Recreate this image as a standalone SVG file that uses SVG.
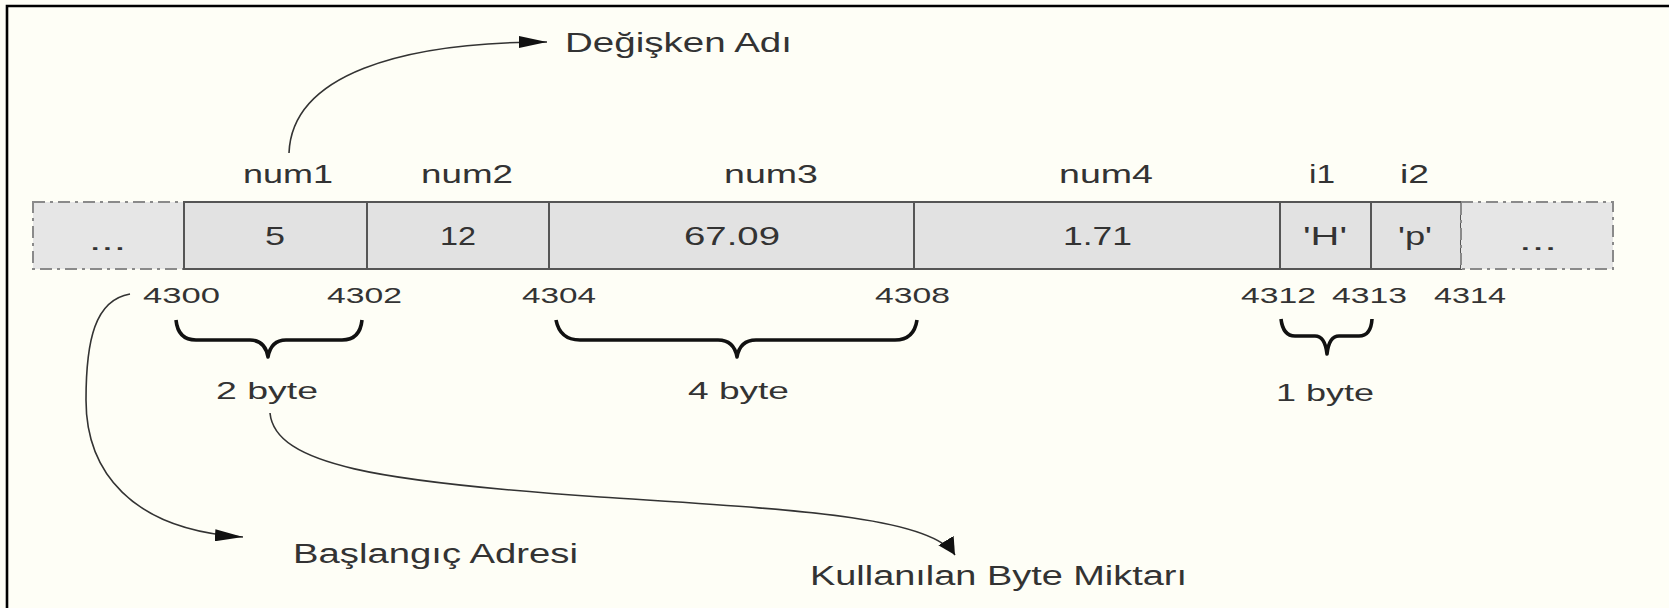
<svg xmlns="http://www.w3.org/2000/svg" width="1669" height="608" viewBox="0 0 1669 608">
<style>
text{font-family:"Liberation Sans",Arial,sans-serif;fill:#333}
.lbl{font-size:25px}
.addr{font-size:22px}
.byte{font-size:24px}
.big{font-size:27px}
.cell{fill:#e2e2e2;stroke:#555;stroke-width:2}
.dash{fill:#e6e6e6;stroke:#8a8a8a;stroke-width:2;stroke-dasharray:12 5 3 5}
.brace{fill:none;stroke:#111;stroke-width:3.6;stroke-linejoin:round}
.conn{fill:none;stroke:#333;stroke-width:1.6}
</style>
<defs>
<marker id="arrH" viewBox="0 0 28 12" refX="28" refY="6" markerWidth="28" markerHeight="12" markerUnits="userSpaceOnUse" orient="auto"><path d="M0,0 L28,6 L0,12 z" fill="#111"/></marker>
<marker id="arrV" viewBox="0 0 17 18" refX="17" refY="9" markerWidth="17" markerHeight="18" markerUnits="userSpaceOnUse" orient="auto"><path d="M0,0 L17,9 L0,18 z" fill="#111"/></marker>
</defs>
<rect width="1669" height="608" fill="#fefef6"/>
<path d="M7,608 V6 H1669" fill="none" stroke="#000" stroke-width="2.6"/>

<g id="connectors">
<path class="conn" d="M289,153 C292,75 400,42 547,42" marker-end="url(#arrH)"/>
<path class="conn" d="M130,294 C95,300 86,340 86,400 C86,470 130,530 243,537" marker-end="url(#arrH)"/>
<path class="conn" d="M270,413 C275,465 380,482 600,497 C780,509 930,515 955,555" marker-end="url(#arrV)"/>
</g>

<g id="cell-left"><rect class="dash" x="33" y="202" width="151" height="67"/><text class="lbl" x="89" y="250" textLength="37" lengthAdjust="spacingAndGlyphs">...</text></g>
<g id="cell-num1"><rect class="cell" x="184" y="202" width="183" height="67"/><text class="lbl" x="243" y="183" textLength="90" lengthAdjust="spacingAndGlyphs">num1</text><text class="lbl" x="265" y="245" textLength="20" lengthAdjust="spacingAndGlyphs">5</text></g>
<g id="cell-num2"><rect class="cell" x="367" y="202" width="182" height="67"/><text class="lbl" x="421" y="183" textLength="92" lengthAdjust="spacingAndGlyphs">num2</text><text class="lbl" x="440" y="245" textLength="36" lengthAdjust="spacingAndGlyphs">12</text></g>
<g id="cell-num3"><rect class="cell" x="549" y="202" width="365" height="67"/><text class="lbl" x="724" y="183" textLength="94" lengthAdjust="spacingAndGlyphs">num3</text><text class="lbl" x="684" y="245" textLength="96" lengthAdjust="spacingAndGlyphs">67.09</text></g>
<g id="cell-num4"><rect class="cell" x="914" y="202" width="366" height="67"/><text class="lbl" x="1059" y="183" textLength="94" lengthAdjust="spacingAndGlyphs">num4</text><text class="lbl" x="1063" y="245" textLength="69" lengthAdjust="spacingAndGlyphs">1.71</text></g>
<g id="cell-i1"><rect class="cell" x="1280" y="202" width="91" height="67"/><text class="lbl" x="1309" y="183" textLength="26" lengthAdjust="spacingAndGlyphs">i1</text><text class="lbl" x="1303" y="245" textLength="44" lengthAdjust="spacingAndGlyphs">'H'</text></g>
<g id="cell-i2"><rect class="cell" x="1371" y="202" width="90" height="67"/><text class="lbl" x="1400" y="183" textLength="29" lengthAdjust="spacingAndGlyphs">i2</text><text class="lbl" x="1398" y="245" textLength="34" lengthAdjust="spacingAndGlyphs">'p'</text></g>
<g id="cell-right"><rect class="dash" x="1461" y="202" width="152" height="67"/><text class="lbl" x="1519" y="250" textLength="38" lengthAdjust="spacingAndGlyphs">...</text></g>

<g id="addresses">
<text class="addr" x="143" y="303" textLength="77" lengthAdjust="spacingAndGlyphs">4300</text>
<text class="addr" x="327" y="303" textLength="75" lengthAdjust="spacingAndGlyphs">4302</text>
<text class="addr" x="522" y="303" textLength="74" lengthAdjust="spacingAndGlyphs">4304</text>
<text class="addr" x="875" y="303" textLength="75" lengthAdjust="spacingAndGlyphs">4308</text>
<text class="addr" x="1241" y="303" textLength="75" lengthAdjust="spacingAndGlyphs">4312</text>
<text class="addr" x="1332" y="303" textLength="75" lengthAdjust="spacingAndGlyphs">4313</text>
<text class="addr" x="1434" y="303" textLength="72" lengthAdjust="spacingAndGlyphs">4314</text>
</g>

<g id="brace-2byte">
<path class="brace" d="M176,320 Q178,340 196,340 L250,340 Q265,340 268,357 Q271,340 286,340 L342,340 Q360,340 362,320"/>
<text class="byte" x="216" y="399" textLength="102" lengthAdjust="spacingAndGlyphs">2 byte</text>
</g>
<g id="brace-4byte">
<path class="brace" d="M556,320 Q560,340 580,340 L718,340 Q734,340 737,357 Q740,340 756,340 L895,340 Q914,340 917,320"/>
<text class="byte" x="688" y="399" textLength="101" lengthAdjust="spacingAndGlyphs">4 byte</text>
</g>
<g id="brace-1byte">
<path class="brace" d="M1281,319 Q1283,336 1295,336 L1315,336 Q1325,336 1327,354 Q1329,336 1339,336 L1359,336 Q1371,336 1372,319"/>
<text class="byte" x="1276" y="401" textLength="98" lengthAdjust="spacingAndGlyphs">1 byte</text>
</g>

<g id="label-degisken"><text class="big" x="565" y="52" textLength="227" lengthAdjust="spacingAndGlyphs">Değişken Adı</text></g>
<g id="label-baslangic"><text class="big" x="293" y="563" textLength="285" lengthAdjust="spacingAndGlyphs">Başlangıç Adresi</text></g>
<g id="label-kullanilan"><text class="big" x="810" y="585" textLength="377" lengthAdjust="spacingAndGlyphs">Kullanılan Byte Miktarı</text></g>
</svg>
